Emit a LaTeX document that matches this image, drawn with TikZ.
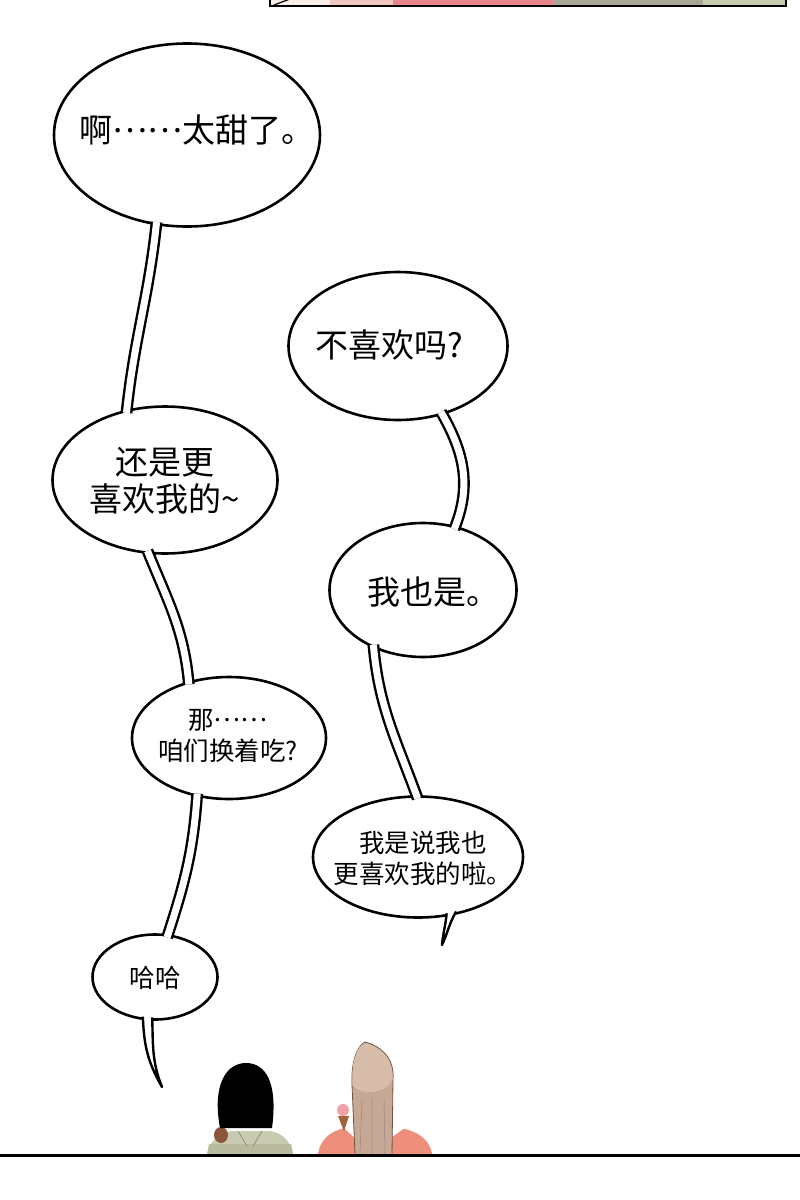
\documentclass[tikz,border=0pt]{standalone}
\usepackage{fontspec}
\newfontfamily\cjk{Noto Sans CJK SC}
\usetikzlibrary{shapes.geometric,calc}
\definecolor{panelpale}{HTML}{FBEEE8}
\definecolor{panelblush}{HTML}{F0C8C0}
\definecolor{panelpink}{HTML}{E8868C}
\definecolor{panelgray}{HTML}{A9A898}
\definecolor{panelgreen}{HTML}{C6CDAE}
\definecolor{shirtolive}{HTML}{C9CBB1}
\definecolor{shirtdark}{HTML}{B9BB9E}
\definecolor{choco}{HTML}{8A573A}
\definecolor{shirtsalmon}{HTML}{EE8F7B}
\definecolor{hairbeige}{HTML}{C6A895}
\definecolor{headbeige}{HTML}{D6BCA9}
\definecolor{hairline}{HTML}{6E5446}
\definecolor{scooppink}{HTML}{F1A2A8}
\definecolor{cone}{HTML}{A0633E}
\newcommand\middots{\raisebox{0.3em}{……}}
\begin{document}
\begin{tikzpicture}[x=1pt, y=-1pt,
    bubble/.style={ellipse, draw, fill=white, line width=2.6pt, inner sep=0pt, outer sep=0pt},
    say/.style={font=\cjk\fontsize{33}{37}\selectfont, align=center, inner sep=0pt},
    saysmall/.style={font=\cjk\fontsize{25.5}{31}\selectfont, align=center, inner sep=0pt},
    tube/.style={line width=2.4pt, double=white, double distance=7pt, shorten <=-2pt, shorten >=-2pt},
    tail/.style={line width=2.4pt, fill=white, line join=round}]
  \useasboundingbox[fill=white] (0,0) rectangle (800,1200);
  % strip of the panel above
  \fill[panelpale] (270,-2) rectangle (330,6);
  \fill[panelblush] (330,-2) rectangle (393,6);
  \fill[panelpink] (393,-2) rectangle (553,6);
  \fill[panelgray] (553,-2) rectangle (703,6);
  \fill[panelgreen] (703,-2) rectangle (786,6);
  \draw[line width=1.2pt] (274,5) -- (290,-1);
  \draw[line width=2pt] (270,-2) -- (270,6) -- (786,6) -- (786,-2);
  % bubbles
  \node[bubble, minimum width=266, minimum height=183] (b1) at (187,135) {};
  \node[bubble, minimum width=225, minimum height=147] (b2) at (165,480) {};
  \node[bubble, minimum width=194, minimum height=122] (b3) at (229,738) {};
  \node[bubble, minimum width=125, minimum height=85] (b4) at (155,977) {};
  \node[bubble, minimum width=219, minimum height=148] (b5) at (398,346) {};
  \node[bubble, minimum width=187, minimum height=134] (b6) at (423,590) {};
  \node[bubble, minimum width=210, minimum height=121] (b7) at (418,857) {};
  \node[say] (t1) at (197,130) {啊\middots 太甜了。};
  \node[say] (t2) at (165,481) {还是更\\喜欢我的\textasciitilde};
  \node[saysmall] (t3) at (228,736) {那\middots\\咱们换着吃?};
  \node[saysmall] (t4) at (155,978) {哈哈};
  \node[say] (t5) at (389,345) {不喜欢吗?};
  \node[say] (t6) at (433,592) {我也是。};
  \node[saysmall] (t7) at (423,858) {我是说我也\\更喜欢我的啦。};
  % tubes
  \draw[tube] (b1.-109) to[out=-96,in=84] (b2.119);
  \draw[tube] (b2.-103) to[out=-68,in=95] (b3.126);
  \draw[tube] (b3.-119) to[out=-94,in=72] (b4.73);
  \draw[tube] (b5.-57) to[out=-60,in=68] (b6.63);
  \draw[tube] (b6.-131) to[out=-85,in=110] (b7.91);
  % tails
  \coordinate (tip4) at (162,1087);
  \coordinate (tip7) at (442,945);
  \draw[tail] ($(b4.-107)!2pt!(b4.center)$) to[out=-88,in=120] (tip4)
    to[out=112,in=-88] ($(b4.-94)!2pt!(b4.center)$);
  \draw[tail] ($(b7.-63)!2pt!(b7.center)$) to[out=-95,in=85] (tip7)
    to[out=65,in=-120] ($(b7.-55)!2pt!(b7.center)$);
  % the two at the bottom
  \fill[shirtolive] (207,1154) .. controls (210,1140) and (220,1133) .. (232,1131)
    -- (270,1131) .. controls (282,1133) and (290,1140) .. (293,1154) -- cycle;
  \fill[shirtdark] (209,1144) -- (291,1144) -- (293,1154) -- (207,1154) -- cycle;
  \draw[shirtdark!70!black, line width=0.6pt] (238,1131) -- (247,1146) (262,1131) -- (253,1146);
  \fill[choco] (221,1135) ellipse (7 and 8);
  \fill[black] (220,1128) .. controls (212,1085) and (226,1063) .. (246,1063)
    .. controls (266,1063) and (278,1083) .. (272,1128) -- cycle;
  \fill[shirtsalmon] (318,1154) .. controls (320,1140) and (330,1131) .. (345,1128)
    -- (400,1128) .. controls (418,1131) and (430,1140) .. (432,1154) -- cycle;
  \fill[white] (344,1128) -- (352,1117) -- (356,1139) -- cycle;
  \fill[white] (392,1117) -- (406,1127) -- (392,1137) -- cycle;
  \fill[scooppink] (343,1110) circle (6);
  \fill[cone] (338,1116) -- (349,1116) -- (344,1131) -- cycle;
  \filldraw[fill=hairbeige, draw=hairline, line width=0.8pt] (355,1154) -- (352,1085)
    .. controls (351,1062) and (357,1046) .. (365,1042)
    .. controls (377,1045) and (395,1055) .. (393,1080) -- (392,1154);
  \fill[headbeige] (352.5,1085) .. controls (351,1062) and (357,1046) .. (365,1043)
    .. controls (377,1046) and (394,1055) .. (392.5,1080)
    .. controls (385,1094) and (360,1096) .. cycle;
  \draw[hairline!70, line width=0.5pt] (362,1100) -- (360,1154) (372,1098) -- (372,1154)
    (384,1100) -- (385,1154);
  % floor line
  \draw[line width=3pt] (0,1155) -- (800,1155);
\end{tikzpicture}
\end{document}
